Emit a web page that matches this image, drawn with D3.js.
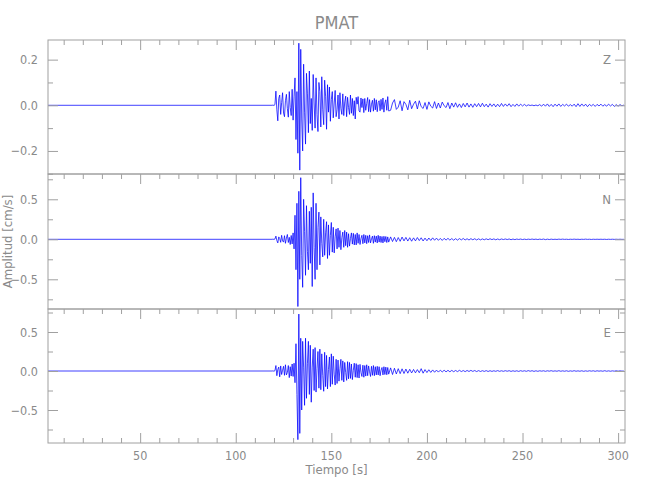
<!DOCTYPE html>
<html>
<head>
<meta charset="utf-8">
<script src="https://cdn.jsdelivr.net/npm/d3@7"></script>
<style>
  html, body { margin: 0; padding: 0; background: #fff; }
  svg { display: block; }
  text { font-family: "Liberation Sans Narrow", "DejaVu Sans Condensed", sans-serif; fill: #8a8a8a; }
</style>
</head>
<body>
<svg id="chart" width="650" height="500"></svg>
<script>
// ---------------- data ----------------
const chartTitle = "PMAT";
const xLabel = "Tiempo  [s]";
const yLabel = "Amplitud  [cm/s]";
const components = ["Z", "N", "E"];
const timeDomain = [1.8, 303.6];
const xMajorTicks = [50, 100, 150, 200, 250, 300];
const xMinorStep = 10;

const zDomain = [-0.301, 0.286];
const nDomain = [-0.871, 0.816];
const eDomain = [-0.923, 0.795];
const zMajorTicks = [-0.2, 0.0, 0.2];
const zMinorTicks = [-0.3, -0.1, 0.1];
const nMajorTicks = [-0.5, 0.0, 0.5];
const nMinorTicks = [-0.75, -0.25, 0.25, 0.75];
const eMajorTicks = [-0.5, 0.0, 0.5];
const eMinorTicks = [-0.75, -0.25, 0.25, 0.75];

// samples: dense part from 119 s every 0.5 s, coda from 181 s every 1 s
const denseStart = 119, denseStep = 0.5;
const codaStart = 181, codaStep = 1;

const zDense = [
  0.000, 0.001, -0.001, 0.003, 0.062, -0.020, -0.068, 0.030, 0.045, -0.040,
  0.012, 0.055, -0.034, -0.050, 0.020, 0.048, -0.015, -0.052, 0.060, -0.010,
  -0.045, 0.070, -0.065, 0.040, 0.120, -0.150, 0.060, -0.210, 0.272, -0.284,
  0.245, -0.060, -0.200, 0.180, -0.030, -0.170, 0.140, 0.050, -0.120, 0.150,
  -0.080, 0.030, -0.110, 0.135, 0.010, -0.100, 0.120, -0.040, -0.115, 0.100,
  0.060, -0.095, 0.125, -0.020, -0.085, 0.110, 0.040, -0.105, 0.090, -0.030,
  0.080, -0.070, 0.025, 0.060, -0.055, 0.010, 0.065, -0.050, -0.020, 0.045,
  -0.060, 0.055, -0.015, -0.040, 0.050, -0.045, 0.015, 0.040, -0.050, 0.035,
  -0.010, -0.040, 0.045, -0.035, 0.030, -0.045, 0.020, -0.060, 0.035, 0.005,
  0.038, -0.025, -0.030, 0.032, -0.010, 0.028, -0.032, 0.030, -0.022, 0.008,
  0.034, -0.028, 0.025, -0.030, 0.005, 0.022, -0.026, 0.030, -0.020, 0.024,
  -0.028, 0.012, 0.020, -0.024, 0.026, -0.018, 0.032, -0.030, 0.010, 0.024,
  -0.022, 0.038, -0.025
];
const zCoda = [
  -0.022, 0.010, 0.025, -0.018, -0.008, 0.020, -0.024, 0.016, 0.004, -0.020,
  0.022, -0.015, 0.005, 0.018, -0.016, 0.020, -0.006, -0.014, 0.012, -0.018,
  0.015, -0.004, -0.012, 0.016, -0.014, 0.010, -0.012, 0.014, -0.002, -0.010,
  0.012, -0.015, 0.010, -0.008, 0.011, -0.009, 0.006, -0.010, 0.008, -0.007,
  0.010, -0.008, 0.006, -0.009, 0.007, -0.006, 0.008, -0.007, 0.009, -0.006,
  0.005, -0.008, 0.007, -0.005, 0.006, -0.007, 0.005, -0.006, 0.008, -0.005,
  0.006, -0.004, 0.007, -0.006, 0.004, -0.005, 0.006, -0.004, 0.005, -0.003,
  0.004, -0.003, 0.002, -0.001, 0.001, -0.002, 0.001, -0.002, 0.003, -0.004,
  0.005, -0.004, 0.006, -0.005, 0.004, -0.006, 0.005, -0.004, 0.006, -0.005,
  0.004, -0.003, 0.005, -0.004, 0.003, -0.004, 0.005, -0.006, 0.007, -0.005,
  0.006, -0.004, 0.005, -0.006, 0.004, -0.003, 0.004, -0.005, 0.004, -0.003,
  0.005, -0.004, 0.003, -0.004, 0.005, -0.003, 0.004, -0.005, 0.003, -0.004,
  0.003, -0.002, 0.001
];

const nDense = [
  0.000, 0.002, -0.002, 0.004, 0.040, -0.015, -0.045, 0.030, 0.010, -0.038,
  0.050, -0.020, -0.035, 0.045, -0.050, 0.015, 0.060, -0.040, 0.025, -0.065,
  0.048, -0.058, 0.080, -0.120, 0.300, -0.380, 0.450, -0.840, 0.600, -0.500,
  0.770, -0.200, -0.600, 0.500, 0.100, -0.450, 0.420, -0.150, -0.380, 0.350,
  -0.300, 0.400, -0.590, 0.580, -0.100, -0.500, 0.450, -0.380, 0.150, 0.340,
  -0.320, 0.280, -0.050, -0.220, 0.250, -0.200, 0.080, 0.220, -0.240, 0.180,
  -0.200, 0.050, 0.210, -0.160, 0.150, -0.170, 0.030, 0.130, -0.120, 0.140,
  -0.100, 0.110, -0.130, 0.020, 0.090, -0.100, 0.110, -0.080, 0.090, -0.100,
  0.070, -0.085, 0.010, 0.080, -0.060, 0.075, -0.070, 0.060, -0.070, 0.080,
  -0.050, 0.060, -0.065, 0.010, 0.050, -0.055, 0.060, -0.045, 0.050, -0.055,
  0.045, -0.040, 0.055, -0.045, 0.005, 0.040, -0.050, 0.045, -0.035, 0.040,
  -0.045, 0.050, -0.035, 0.040, -0.040, 0.035, -0.045, 0.038, -0.030, 0.035,
  -0.040, 0.030, -0.035
];
const nCoda = [
  0.030, -0.028, 0.024, -0.030, 0.022, -0.025, 0.028, -0.020, 0.024, -0.022,
  0.020, -0.024, 0.018, -0.020, 0.022, -0.016, 0.019, -0.021, 0.015, -0.018,
  0.016, -0.014, 0.018, -0.012, 0.015, -0.013, 0.011, -0.014, 0.012, -0.010,
  0.012, -0.010, 0.009, -0.011, 0.008, -0.010, 0.009, -0.007, 0.010, -0.008,
  0.007, -0.009, 0.008, -0.006, 0.007, -0.008, 0.006, -0.007, 0.005, -0.006,
  0.006, -0.005, 0.007, -0.004, 0.005, -0.006, 0.004, -0.005, 0.004, -0.003,
  0.004, -0.003, 0.004, -0.005, 0.003, -0.004, 0.003, -0.002, 0.003, -0.003,
  0.002, -0.003, 0.002, -0.002, 0.003, -0.002, 0.002, -0.003, 0.002, -0.002,
  0.003, -0.004, 0.002, -0.003, 0.002, -0.002, 0.001, -0.002, 0.002, -0.001,
  0.002, -0.001, 0.001, -0.002, 0.001, -0.001, 0.002, -0.001, 0.001, -0.002,
  0.001, -0.001, 0.002, -0.001, 0.001, -0.002, 0.001, -0.001, 0.001, -0.001,
  0.001, -0.001, 0.001, -0.002, 0.001, -0.001, 0.001, -0.001, 0.001, -0.001,
  0.001, -0.001, 0.000
];

const eDense = [
  0.000, 0.002, -0.003, 0.005, 0.070, -0.060, 0.020, 0.050, -0.075, 0.065,
  -0.045, 0.010, 0.060, -0.055, 0.080, -0.050, -0.020, 0.070, -0.085, 0.055,
  -0.065, 0.090, -0.070, 0.100, -0.150, 0.350, -0.300, -0.880, 0.730, -0.800,
  0.420, -0.500, 0.380, 0.050, -0.440, 0.420, -0.350, 0.100, 0.380, -0.300,
  0.330, -0.400, 0.050, 0.280, -0.250, 0.300, -0.270, 0.030, 0.250, -0.220,
  0.280, -0.240, 0.220, -0.060, -0.260, 0.240, -0.200, 0.200, -0.230, 0.020,
  0.180, -0.200, 0.220, -0.170, 0.190, -0.040, -0.180, 0.150, -0.160, 0.140,
  -0.130, 0.030, 0.150, -0.120, 0.130, -0.140, 0.110, -0.020, -0.120, 0.120,
  -0.100, 0.110, -0.095, 0.090, -0.110, 0.010, 0.100, -0.080, 0.095, -0.085,
  0.080, -0.090, 0.085, -0.020, -0.070, 0.075, -0.080, 0.070, -0.065, 0.080,
  -0.060, 0.065, -0.010, -0.070, 0.060, -0.055, 0.070, -0.060, 0.055, -0.050,
  0.060, -0.050, 0.055, -0.060, 0.010, 0.045, -0.050, 0.055, -0.045, 0.050,
  -0.048, 0.045, -0.040
];
const eCoda = [
  0.040, -0.045, 0.035, -0.038, 0.030, -0.034, 0.028, -0.032, 0.025, -0.028,
  0.022, -0.025, 0.020, -0.024, 0.018, -0.022, 0.030, -0.028, 0.018, -0.020,
  0.016, -0.018, 0.014, -0.016, 0.012, -0.014, 0.011, -0.012, 0.010, -0.011,
  0.009, -0.010, 0.008, -0.009, 0.007, -0.008, 0.009, -0.007, 0.006, -0.008,
  0.007, -0.006, 0.008, -0.005, 0.006, -0.007, 0.005, -0.006, 0.004, -0.005,
  0.005, -0.006, 0.004, -0.005, 0.003, -0.004, 0.005, -0.004, 0.003, -0.004,
  0.004, -0.003, 0.004, -0.005, 0.003, -0.004, 0.003, -0.005, 0.004, -0.003,
  0.003, -0.004, 0.005, -0.003, 0.004, -0.005, 0.003, -0.004, 0.003, -0.002,
  0.003, -0.004, 0.003, -0.002, 0.004, -0.003, 0.002, -0.003, 0.004, -0.003,
  0.002, -0.003, 0.003, -0.004, 0.002, -0.003, 0.004, -0.003, 0.002, -0.003,
  0.003, -0.004, 0.002, -0.003, 0.003, -0.002, 0.003, -0.004, 0.003, -0.002,
  0.002, -0.003, 0.004, -0.003, 0.002, -0.003, 0.002, -0.002, 0.003, -0.002,
  0.002, -0.001, 0.000
];

// ---------------- layout ----------------
const W = 650, H = 500;
const plotLeft = 48, plotRight = 625;
const panelTops = [40, 174, 309];
const panelBottoms = [174, 309, 443];
const axisColor = "#a0a0a0";
const traceColor = "#0000ff";

const panels = [
  { name: components[0], domain: zDomain, major: zMajorTicks, minor: zMinorTicks, dense: zDense, coda: zCoda },
  { name: components[1], domain: nDomain, major: nMajorTicks, minor: nMinorTicks, dense: nDense, coda: nCoda },
  { name: components[2], domain: eDomain, major: eMajorTicks, minor: eMinorTicks, dense: eDense, coda: eCoda }
];

const svg = d3.select("#chart");
svg.append("rect").attr("width", W).attr("height", H).attr("fill", "#fff");

const x = d3.scaleLinear().domain(timeDomain).range([plotLeft, plotRight]);
const xMinor = d3.range(0, 310, xMinorStep).filter(t => t >= timeDomain[0] && t <= timeDomain[1] && !xMajorTicks.includes(t));
const fmt = d3.format(".1f");

panels.forEach((p, i) => {
  const top = panelTops[i], bottom = panelBottoms[i];
  const y = d3.scaleLinear().domain(p.domain).range([bottom, top]);
  const g = svg.append("g");

  // trace
  const pts = [[timeDomain[0], 0]];
  p.dense.forEach((v, k) => pts.push([denseStart + k * denseStep, v]));
  p.coda.forEach((v, k) => pts.push([codaStart + k * codaStep, v]));
  const line = d3.line().x(d => x(d[0])).y(d => y(d[1]));
  g.append("path")
    .attr("d", line(pts))
    .attr("fill", "none")
    .attr("stroke", traceColor)
    .attr("stroke-width", 0.75)
    .attr("stroke-linejoin", "round");

  // left axis (ticks inward)
  const gl = g.append("g").attr("transform", `translate(${plotLeft},0)`)
    .call(d3.axisRight(y).tickValues(p.major).tickSize(10).tickFormat(""));
  const glm = g.append("g").attr("transform", `translate(${plotLeft},0)`)
    .call(d3.axisRight(y).tickValues(p.minor).tickSize(5).tickFormat(""));
  // right axis (ticks inward)
  const gr = g.append("g").attr("transform", `translate(${plotRight},0)`)
    .call(d3.axisLeft(y).tickValues(p.major).tickSize(10).tickFormat(""));
  const grm = g.append("g").attr("transform", `translate(${plotRight},0)`)
    .call(d3.axisLeft(y).tickValues(p.minor).tickSize(5).tickFormat(""));
  [gl, glm, gr, grm].forEach(a => {
    a.select(".domain").remove();
    a.selectAll("line").attr("stroke", axisColor);
  });

  // y tick labels
  g.selectAll("text.ylab").data(p.major).enter().append("text")
    .attr("class", "ylab")
    .attr("x", plotLeft - 10)
    .attr("y", d => y(d))
    .attr("dy", "0.36em")
    .attr("text-anchor", "end")
    .attr("font-size", 12.5)
    .text(d => fmt(d));

  // top x axis ticks (inward)
  const gt = g.append("g").attr("transform", `translate(0,${top})`)
    .call(d3.axisBottom(x).tickValues(xMajorTicks).tickSize(10).tickFormat(""));
  const gtm = g.append("g").attr("transform", `translate(0,${top})`)
    .call(d3.axisBottom(x).tickValues(xMinor).tickSize(5).tickFormat(""));
  [gt, gtm].forEach(a => {
    a.select(".domain").remove();
    a.selectAll("line").attr("stroke", axisColor);
  });

  // frame
  g.append("rect")
    .attr("x", plotLeft).attr("y", top)
    .attr("width", plotRight - plotLeft).attr("height", bottom - top)
    .attr("fill", "none").attr("stroke", axisColor).attr("stroke-width", 1);

  // component label
  g.append("text")
    .attr("x", plotRight - 14)
    .attr("y", y(p.major[p.major.length - 1]))
    .attr("dy", "0.36em")
    .attr("text-anchor", "end")
    .attr("font-size", 13)
    .text(p.name);

  // bottom axis on last panel
  if (i === panels.length - 1) {
    const gb = g.append("g").attr("transform", `translate(0,${bottom})`)
      .call(d3.axisTop(x).tickValues(xMajorTicks).tickSize(10).tickFormat(""));
    const gbm = g.append("g").attr("transform", `translate(0,${bottom})`)
      .call(d3.axisTop(x).tickValues(xMinor).tickSize(5).tickFormat(""));
    [gb, gbm].forEach(a => {
      a.select(".domain").remove();
      a.selectAll("line").attr("stroke", axisColor);
    });
    g.selectAll("text.xlab").data(xMajorTicks).enter().append("text")
      .attr("class", "xlab")
      .attr("x", d => x(d))
      .attr("y", bottom + 17)
      .attr("text-anchor", "middle")
      .attr("font-size", 12.5)
      .text(d => d);
  }
});

// titles
svg.append("text")
  .attr("x", (plotLeft + plotRight) / 2)
  .attr("y", 29)
  .attr("text-anchor", "middle")
  .attr("font-size", 18)
  .text(chartTitle);

svg.append("text")
  .attr("x", (plotLeft + plotRight) / 2)
  .attr("y", 474)
  .attr("text-anchor", "middle")
  .attr("font-size", 13)
  .text(xLabel);

svg.append("text")
  .attr("transform", `translate(12,${(panelTops[0] + panelBottoms[2]) / 2}) rotate(-90)`)
  .attr("text-anchor", "middle")
  .attr("font-size", 13)
  .text(yLabel);
</script>
</body>
</html>
